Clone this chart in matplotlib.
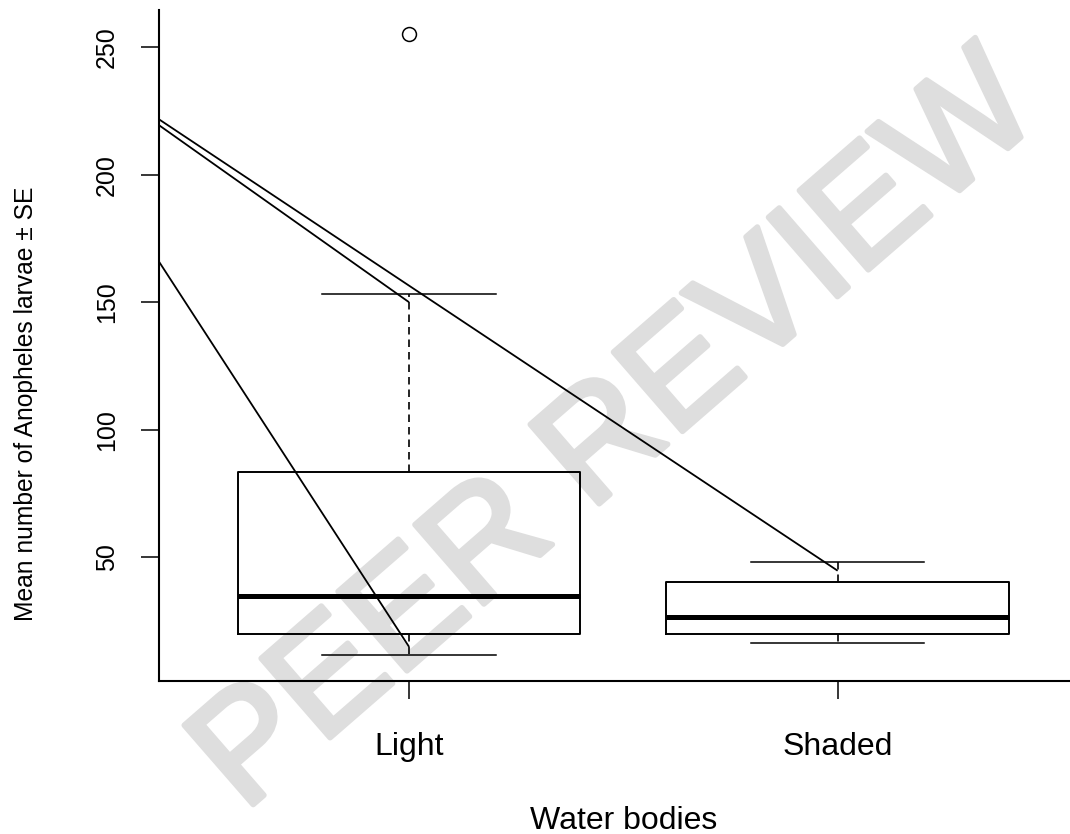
import matplotlib
matplotlib.use('Agg')
import matplotlib.pyplot as plt
import matplotlib.patheffects as pe

# ---- data ----
categories = ['Light', 'Shaded']
positions = [1, 2]
q1 = [20.0, 19.9]
medians = [34.7, 26.8]
q3 = [83.4, 40.3]
whisker_low = [11.9, 16.6]
whisker_high = [153.3, 48.1]
outliers = [[255.3], []]

# straight segments overlaid on the plot (they start at x=0 and are clipped by the axes)
line_x0 = [0, 0, 0]
line_y0 = [268.4, 269.1, 273.9]
line_x1 = [2, 1, 1]
line_y1 = [44.8, 150.1, 15.0]

yticks = [50, 100, 150, 200, 250]
ylabel = 'Mean number of Anopheles larvae \u00b1 SE'
xlabel = 'Water bodies'
watermark = 'PEER REVIEW'

plt.rcParams['font.family'] = ['Liberation Sans', 'DejaVu Sans']

fig = plt.figure(figsize=(10.70, 8.34), dpi=100)
ax = fig.add_axes([0.1486, 0.1835, 0.8682, 0.8046])

# watermark (behind everything)
ax.text(0.578, 0.478, watermark, transform=fig.transFigure, rotation=41,
        rotation_mode='anchor', ha='center', va='center', fontsize=110,
        color='#dedede', zorder=0.5, clip_on=False,
        path_effects=[pe.withStroke(linewidth=4, foreground='#dedede',
                                    joinstyle='round', capstyle='round')])

stats = []
for i, c in enumerate(categories):
    stats.append(dict(label=c, med=medians[i], q1=q1[i], q3=q3[i],
                      whislo=whisker_low[i], whishi=whisker_high[i],
                      fliers=outliers[i]))

ax.bxp(stats, positions=positions, widths=0.8, capwidths=0.405,
       showfliers=True, patch_artist=False,
       boxprops=dict(color='black', linewidth=1.4),
       medianprops=dict(color='black', linewidth=3.6, solid_capstyle='butt'),
       whiskerprops=dict(color='black', linewidth=1.2, linestyle=(0, (4.5, 3))),
       capprops=dict(color='black', linewidth=1.1),
       flierprops=dict(marker='o', markerfacecolor='none', markeredgecolor='black',
                       markersize=10, markeredgewidth=1.1))

for x0, y0, x1, y1 in zip(line_x0, line_y0, line_x1, line_y1):
    ax.plot([x0, x1], [y0, y1], color='black', lw=1.3, solid_capstyle='butt', zorder=3)

ax.set_xlim(0.4168, 2.584)
ax.set_ylim(1.57, 264.7)

for s in ['top', 'right']:
    ax.spines[s].set_visible(False)
for s in ['left', 'bottom']:
    ax.spines[s].set_linewidth(1.5)

ax.set_yticks(yticks)
ax.set_yticklabels([str(t) for t in yticks])
ax.tick_params(axis='both', direction='out', length=13, width=1.1, colors='black')
ax.tick_params(axis='y', labelsize=18, labelrotation=90, pad=16)
ax.tick_params(axis='x', labelsize=23, pad=24)
for lbl in ax.get_yticklabels():
    lbl.set_va('center')

ax.set_ylabel(ylabel, fontsize=17.7, va='center', ha='center')
ax.yaxis.set_label_coords(-0.143, 0.4128)
ax.set_xlabel(xlabel, fontsize=23, va='top')
ax.xaxis.set_label_coords(0.5, -0.1863)

fig.savefig('out.png', dpi=100, facecolor='white')
